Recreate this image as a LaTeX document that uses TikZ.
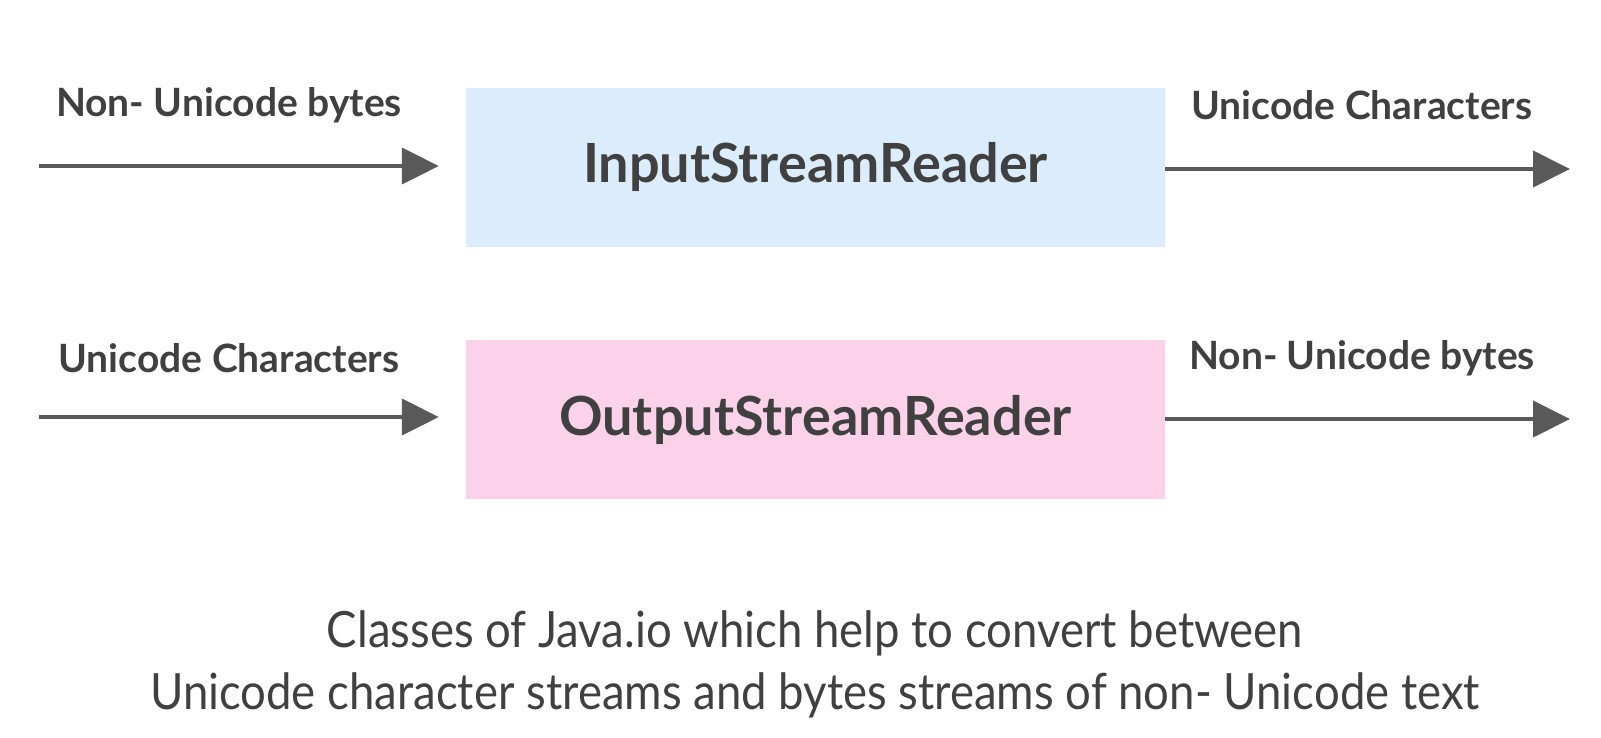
\documentclass[tikz,border=0pt]{standalone}
\usepackage{fontspec}
\setmainfont{Lato}
\newfontfamily\captionfont[FakeStretch=0.91]{Lato}
\usetikzlibrary{positioning,arrows.meta}
\definecolor{inkgray}{HTML}{404040}
\definecolor{arrowgray}{HTML}{595959}
\definecolor{readerblue}{HTML}{DBEDFC}
\definecolor{readerpink}{HTML}{FBD2E9}

\begin{document}
\begin{tikzpicture}[x=1pt,y=-1pt,
    reader/.style={minimum width=699pt, minimum height=159pt, inner sep=0pt,
        text=inkgray, font=\fontsize{54}{58}\selectfont\bfseries},
    flowlabel/.style={text=inkgray, inner sep=0pt, font=\fontsize{39}{44}\selectfont\bfseries},
    flow/.style={arrowgray, line width=4pt, -{Triangle[length=37pt,width=36pt]}}]
    \useasboundingbox (0,0) rectangle (1601,737);

    \node[reader, fill=readerblue] (isr) at (815.5,167) {InputStreamReader};
    \node[reader, fill=readerpink] (osr) at (815.5,419.5) {OutputStreamReader};

    \coordinate (isrin) at (39,166);
    \coordinate (isrout) at (1570,169);
    \coordinate (osrin) at (39,417);
    \coordinate (osrout) at (1570,419);

    \draw[flow] (isrin) -- ([xshift=-27pt]isr.west |- isrin);
    \draw[flow] (isr.east |- isrout) -- (isrout);
    \draw[flow] (osrin) -- ([xshift=-27pt]osr.west |- osrin);
    \draw[flow] (osr.east |- osrout) -- (osrout);

    \node[flowlabel] (isrinlabel) at (229,105) {Non- Unicode bytes};
    \node[flowlabel] (isroutlabel) at (1362,105) {Unicode Characters};
    \node[flowlabel] (osrinlabel) at (229,358) {Unicode Characters};
    \node[flowlabel] (osroutlabel) at (1362,358) {Non- Unicode bytes};

    \node[text=inkgray, align=center, font=\captionfont\fontsize{50}{62}\selectfont] (note) at (815,664)
        {Classes of Java.io which help to convert between\\
         Unicode character streams and bytes streams of non- Unicode text};
\end{tikzpicture}
\end{document}
